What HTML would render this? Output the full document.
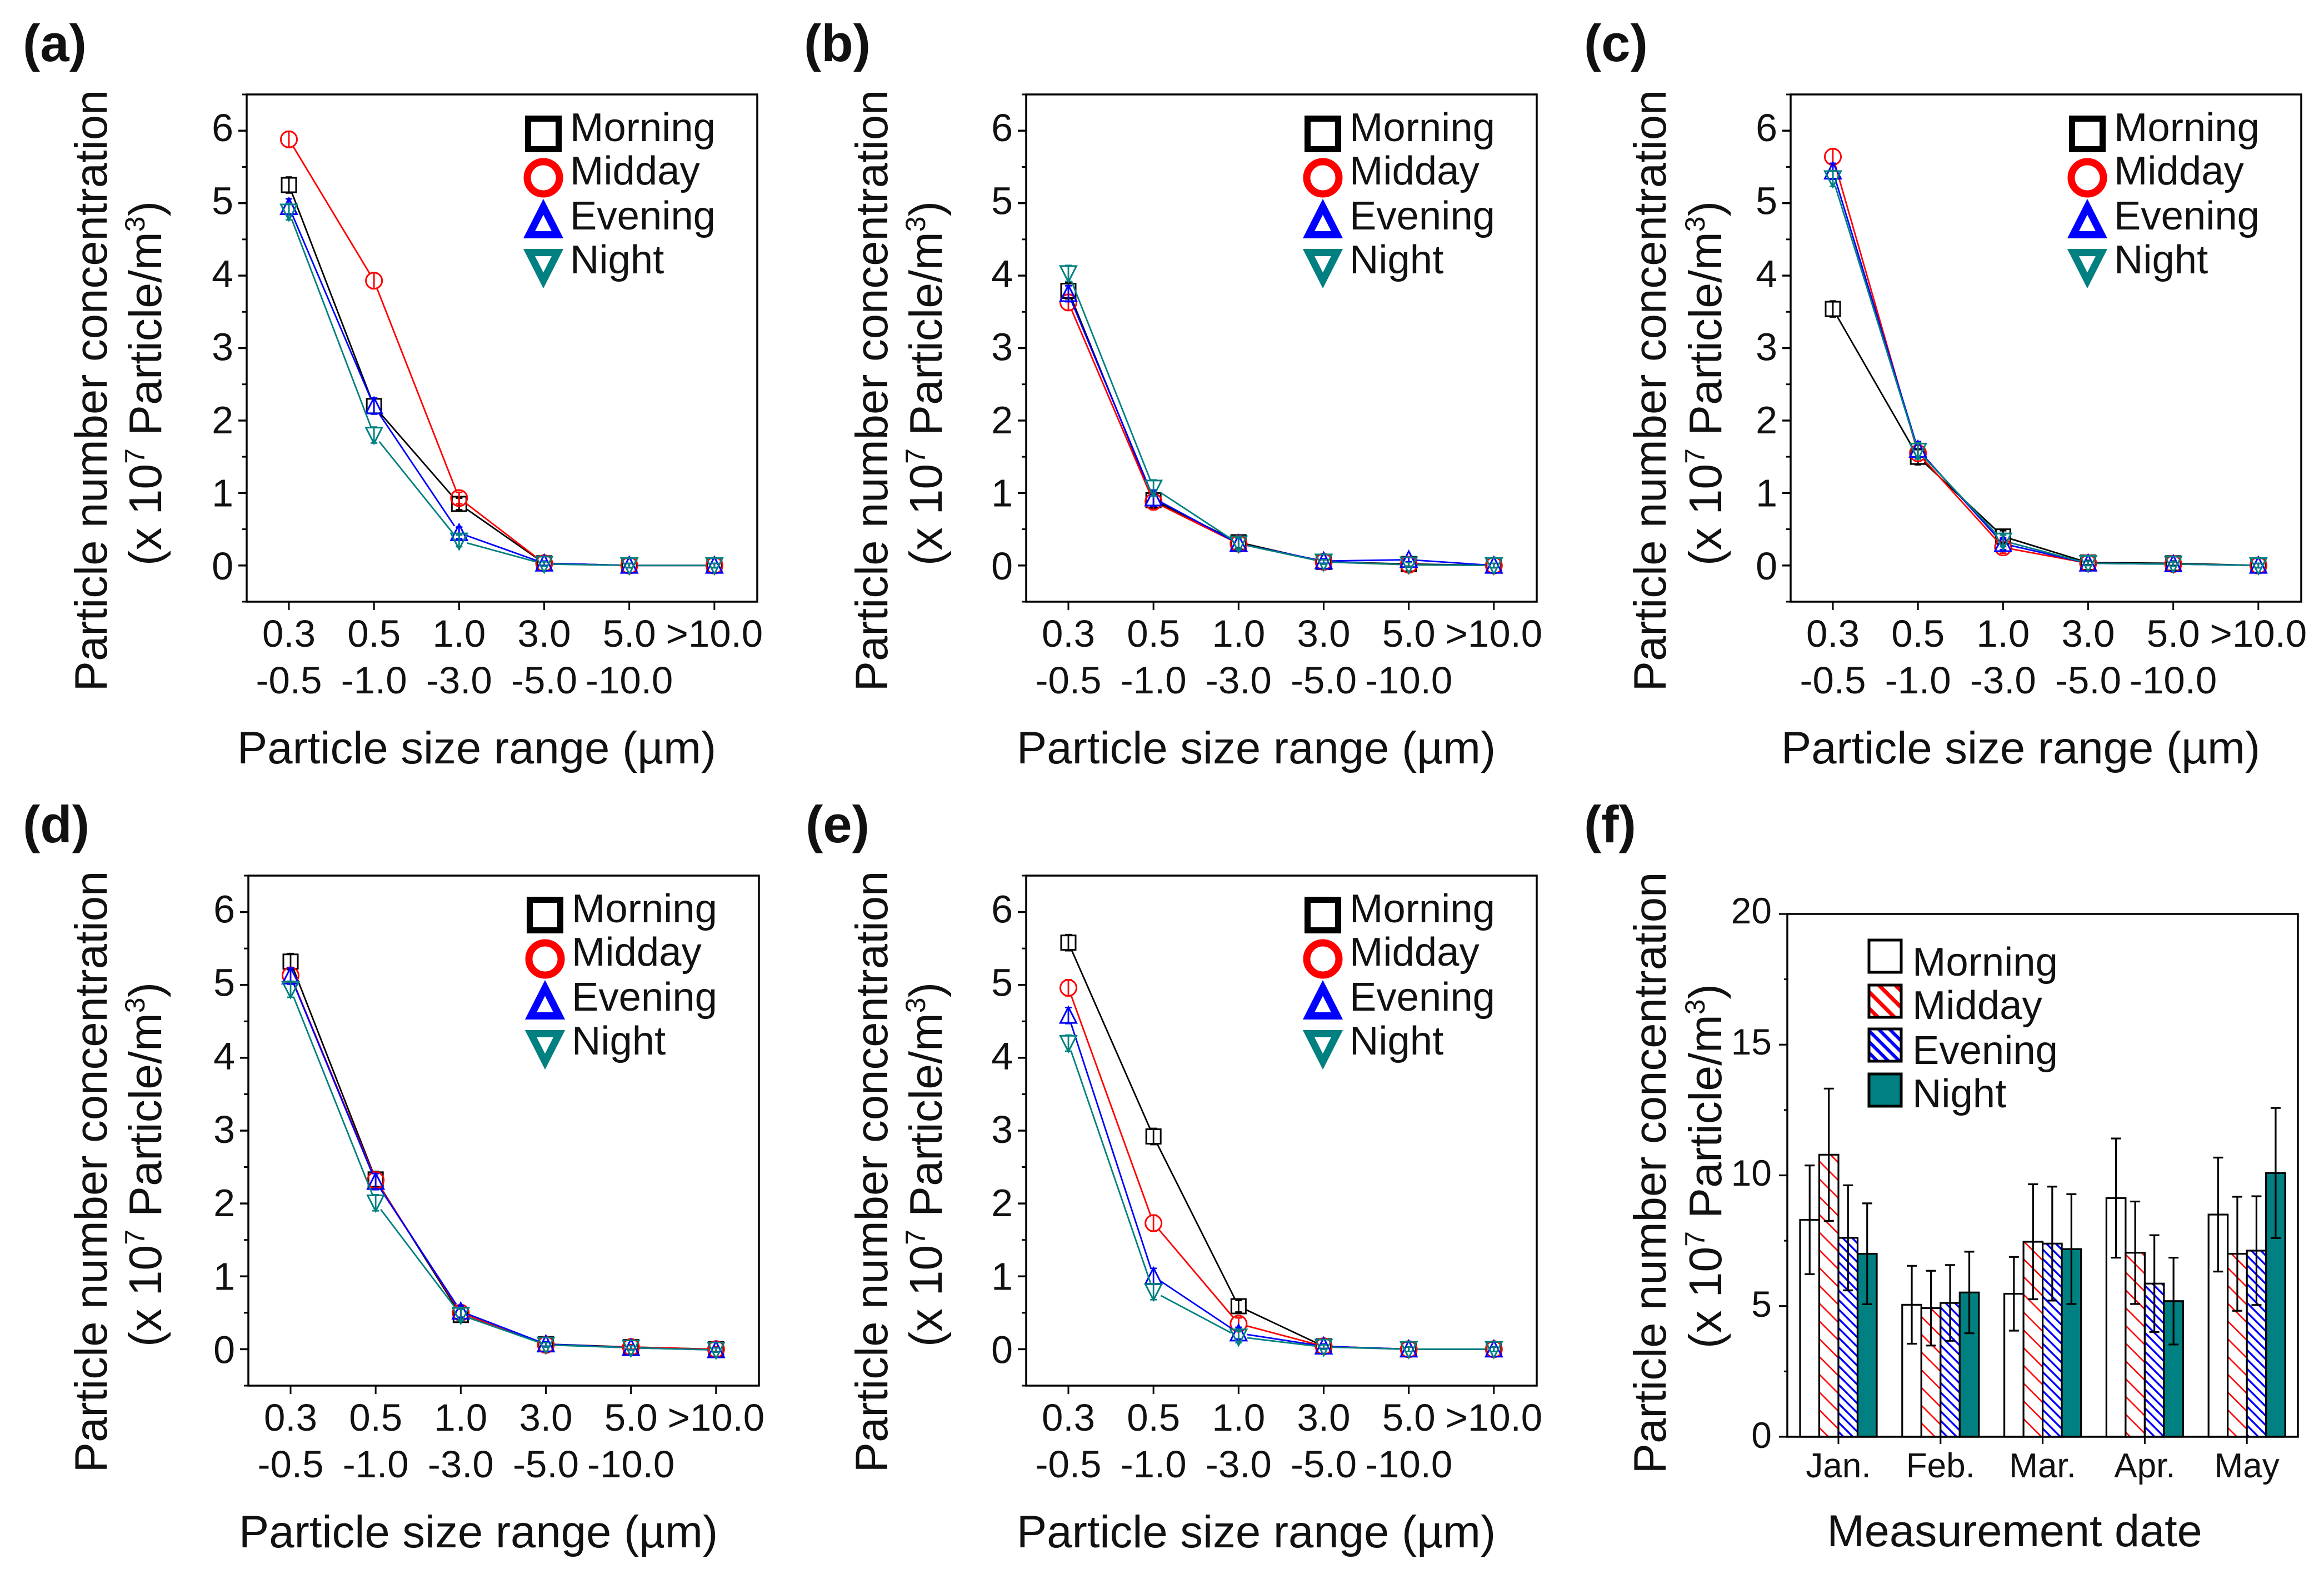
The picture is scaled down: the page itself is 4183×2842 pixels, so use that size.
<!DOCTYPE html>
<html lang="en">
<head>
<meta charset="utf-8">
<title>Particle number concentration panels</title>
<style>
html,body{margin:0;padding:0;background:#fff;}
svg{display:block;}
text{font-family:"Liberation Sans",Arial,sans-serif;fill:#111;white-space:pre;}
</style>
</head>
<body>
<svg id="figure" xmlns="http://www.w3.org/2000/svg" width="4183" height="2842" viewBox="0 0 4183 2842">
<defs>
<pattern id="hatch-red" patternUnits="userSpaceOnUse" width="22.6" height="22.6" patternTransform="rotate(-45)"><rect width="22.6" height="22.6" fill="#fff"/><rect width="2.6" height="22.6" fill="#f00"/></pattern>
<pattern id="hatch-blue" patternUnits="userSpaceOnUse" width="12" height="12" patternTransform="rotate(-45)"><rect width="12" height="12" fill="#fff"/><rect width="3.4" height="12" fill="#00f"/></pattern>
<pattern id="legend-hatch-red" patternUnits="userSpaceOnUse" width="21" height="21" patternTransform="rotate(-45)"><rect width="21" height="21" fill="#fff"/><rect width="7" height="21" fill="#f00"/></pattern>
<pattern id="legend-hatch-blue" patternUnits="userSpaceOnUse" width="14" height="14" patternTransform="rotate(-45)"><rect width="14" height="14" fill="#fff"/><rect width="6" height="14" fill="#00f"/></pattern>
</defs>
<rect width="4183" height="2842" fill="#fff"/>
</svg>
<script>
// ---------- shared labels ----------
const seriesNames = ["Morning", "Midday", "Evening", "Night"];
const sizeLabelsTop = ["0.3", "0.5", "1.0", "3.0", "5.0", ">10.0"];
const sizeLabelsBottom = ["-0.5", "-1.0", "-3.0", "-5.0", "-10.0", ""];
const lineYTicks = [0, 1, 2, 3, 4, 5, 6];
const pointErrors = [0.11, 0.11, 0.08, 0.03, 0.03, 0.03];

// ---------- panel (a) ----------
const aMorning = [5.25, 2.2, 0.85, 0.03, 0, 0];
const aMidday = [5.88, 3.93, 0.93, 0.03, 0, 0];
const aEvening = [4.95, 2.2, 0.45, 0.03, 0, 0];
const aNight = [4.88, 1.8, 0.34, 0.02, 0, 0];
// ---------- panel (b) ----------
const bMorning = [3.79, 0.9, 0.32, 0.05, 0.02, 0];
const bMidday = [3.63, 0.88, 0.3, 0.05, 0.01, 0];
const bEvening = [3.75, 0.93, 0.3, 0.06, 0.08, 0];
const bNight = [4.03, 1.07, 0.3, 0.05, 0.01, 0];
// ---------- panel (c) ----------
const cMorning = [3.54, 1.5, 0.4, 0.04, 0.03, 0];
const cMidday = [5.64, 1.55, 0.25, 0.03, 0.02, 0];
const cEvening = [5.44, 1.6, 0.3, 0.03, 0.02, 0];
const cNight = [5.34, 1.58, 0.34, 0.03, 0.02, 0];
// ---------- panel (d) ----------
const dMorning = [5.32, 2.33, 0.47, 0.07, 0.03, 0];
const dMidday = [5.13, 2.32, 0.5, 0.06, 0.03, 0];
const dEvening = [5.12, 2.3, 0.52, 0.07, 0.02, -0.01];
const dNight = [4.94, 2.01, 0.47, 0.06, 0.02, -0.01];
// ---------- panel (e) ----------
const eMorning = [5.58, 2.92, 0.59, 0.04, 0, 0];
const eMidday = [4.96, 1.73, 0.35, 0.04, 0, 0];
const eEvening = [4.58, 1.0, 0.22, 0.04, 0, 0];
const eNight = [4.2, 0.79, 0.17, 0.03, 0, 0];
// ---------- panel (f) ----------
const months = ["Jan.", "Feb.", "Mar.", "Apr.", "May"];
const barYTicks = [0, 5, 10, 15, 20];
const fMorning = [8.3, 5.05, 5.47, 9.13, 8.5];
const fMidday = [10.79, 4.92, 7.46, 7.04, 7.0];
const fEvening = [7.61, 5.12, 7.39, 5.86, 7.12];
const fNight = [7.0, 5.52, 7.18, 5.19, 10.09];
const fMorningErr = [2.08, 1.49, 1.41, 2.28, 2.18];
const fMiddayErr = [2.53, 1.43, 2.2, 1.96, 2.18];
const fEveningErr = [2.01, 1.45, 2.18, 1.85, 2.08];
const fNightErr = [1.93, 1.56, 2.1, 1.66, 2.49];

const svg = document.getElementById('figure');
const NS = 'http://www.w3.org/2000/svg';
const seriesColors = ['#000', '#f00', '#00f', '#008080'];

function mk(tag, attrs, parent) {
  const el = document.createElementNS(NS, tag);
  for (const k in attrs) el.setAttribute(k, attrs[k]);
  parent.appendChild(el);
  return el;
}

function addText(str, x, y, size, anchor, parent, weight) {
  const t = mk('text', {x: x, y: y, 'font-size': size, 'text-anchor': anchor, 'font-weight': weight || 'normal'}, parent);
  t.textContent = str;
  return t;
}

function markerShape(kind, cx, cy, s, sw, color, parent) {
  // s is half-width of the symbol's centre line
  let el;
  if (kind === 0) {
    el = mk('rect', {x: cx - s, y: cy - s, width: 2 * s, height: 2 * s, fill: 'none', stroke: color, 'stroke-width': sw}, parent);
  } else if (kind === 1) {
    el = mk('circle', {cx: cx, cy: cy, r: s, fill: 'none', stroke: color, 'stroke-width': sw}, parent);
  } else if (kind === 2) {
    el = mk('polygon', {points: cx + ',' + (cy - s * 1.05) + ' ' + (cx + s) + ',' + (cy + s * 0.92) + ' ' + (cx - s) + ',' + (cy + s * 0.92), fill: 'none', stroke: color, 'stroke-width': sw}, parent);
  } else {
    el = mk('polygon', {points: cx + ',' + (cy + s * 1.05) + ' ' + (cx + s) + ',' + (cy - s * 0.92) + ' ' + (cx - s) + ',' + (cy - s * 0.92), fill: 'none', stroke: color, 'stroke-width': sw}, parent);
  }
  return el;
}

function yAxisTitle(panelG, x1, x2, cy1, cy2) {
  const t1 = addText('Particle number concentration', x1, cy1, 81.5, 'middle', panelG);
  t1.setAttribute('transform', 'rotate(-90 ' + x1 + ' ' + cy1 + ')');
  
  
  const t2 = mk('text', {x: x2, y: cy2, 'font-size': 82.5, 'text-anchor': 'middle', transform: 'rotate(-90 ' + x2 + ' ' + cy2 + ')'}, panelG);
  
  
  const parts = [['(x 10', 0, 82.5], ['7', -30, 50], [' Particle/m', 30, 82.5], ['3', -30, 50], [')', 30, 82.5]];
  parts.forEach(function (p) {
    const sp = mk('tspan', {dy: p[1], 'font-size': p[2]}, t2);
    sp.textContent = p[0];
  });
}

function frame(panelG, L, T, W, H) {
  const r = mk('rect', {x: L, y: T, width: W, height: H, fill: 'none', stroke: '#000', 'stroke-width': 3.5}, panelG);
  
  
}

function drawLinePanel(p) {
  const g = mk('g', {}, svg);
  
  
  const plotH = p.H, plotW = p.W;
  const xOf = function (i) { return p.L + 76 + i * plotW / 6; };
  const yOf = function (v) { return p.T + (6.5 - v) * plotH / 7; };

  const label = addText('(' + p.id + ')', p.labelX, p.labelY, 94, 'start', g, 'bold');
  
  

  frame(g, p.L, p.T, plotW, plotH);

  lineYTicks.forEach(function (v) {
    const tick = mk('line', {x1: p.L - 15, x2: p.L, y1: yOf(v), y2: yOf(v), stroke: '#000', 'stroke-width': 3.5}, g);
    
    
    const minor = mk('line', {x1: p.L - 8, x2: p.L, y1: yOf(v + 0.5), y2: yOf(v + 0.5), stroke: '#000', 'stroke-width': 3}, g);
    
    
    const tl = addText(String(v), p.L - 24, yOf(v) + 25 - v, 70, 'end', g);
    
    
  });
  const minorLow = mk('line', {x1: p.L - 8, x2: p.L, y1: yOf(-0.5), y2: yOf(-0.5), stroke: '#000', 'stroke-width': 3}, g);
  
  

  sizeLabelsTop.forEach(function (lab, i) {
    const x = xOf(i);
    const tick = mk('line', {x1: x, x2: x, y1: p.T + plotH, y2: p.T + plotH + 15, stroke: '#000', 'stroke-width': 3}, g);
    
    
    const a = addText(lab, x, p.T + plotH + 81, 69, 'middle', g);
    
    
    if (sizeLabelsBottom[i]) {
      const b = addText(sizeLabelsBottom[i], x, p.T + plotH + 165, 69, 'middle', g);
      
      
    }
  });

  const xt = addText('Particle size range (\u00b5m)', p.L + 414, p.T + plotH + 291, 81.5, 'middle', g);
  
  

  yAxisTitle(g, p.titleX1, p.titleX2, p.T + 533, p.T + 520);

  const gapR = 15;
  p.series.forEach(function (vals, s) {
    const sg = mk('g', {}, g);
    
    
    const col = seriesColors[s];
    for (let i = 0; i < vals.length - 1; i++) {
      const x1 = xOf(i), y1 = yOf(vals[i]), x2 = xOf(i + 1), y2 = yOf(vals[i + 1]);
      const d = Math.hypot(x2 - x1, y2 - y1);
      const ux = (x2 - x1) / d, uy = (y2 - y1) / d;
      const seg = mk('line', {x1: x1 + ux * gapR, y1: y1 + uy * gapR, x2: x2 - ux * gapR, y2: y2 - uy * gapR, stroke: col, 'stroke-width': 2.8}, sg);
      
      
    }
    vals.forEach(function (v, i) {
      const cx = xOf(i), cy = yOf(v);
      const hi = yOf(v + pointErrors[i]), lo = yOf(v - pointErrors[i]);
      const eb = mk('path', {d: 'M' + (cx - 6) + ' ' + hi + 'H' + (cx + 6) + 'M' + cx + ' ' + hi + 'V' + lo + 'M' + (cx - 6) + ' ' + lo + 'H' + (cx + 6), fill: 'none', stroke: col, 'stroke-width': 2.8}, sg);
      
      
      const m = markerShape(s, cx, cy, s === 0 ? 13 : 14.5, 3, col, sg);
      
      
    });
  });

  const markerY = [71, 150, 229, 308];
  const textY = [84, 162, 243, 322];
  seriesNames.forEach(function (name, s) {
    const lg = mk('g', {}, g);
    
    
    const sz = s === 0 ? 27.5 : s === 1 ? 29 : 25.5;
    const m = markerShape(s, p.L + 534, p.T + markerY[s], sz, s === 0 ? 11 : 13, seriesColors[s], lg);
    
    
    const t = addText(name, p.L + 582, p.T + textY[s], 72.5, 'start', lg);
    
    
  });
}

const linePanels = [
  {id: 'a', L: 444, T: 170, W: 919, H: 913, labelX: 41, labelY: 110, titleX1: 192, titleX2: 290, series: [aMorning, aMidday, aEvening, aNight]},
  {id: 'b', L: 1847, T: 170, W: 919, H: 913, labelX: 1447, labelY: 110, titleX1: 1597, titleX2: 1695, series: [bMorning, bMidday, bEvening, bNight]},
  {id: 'c', L: 3223, T: 170, W: 919, H: 913, labelX: 2851, labelY: 110, titleX1: 2998, titleX2: 3098, series: [cMorning, cMidday, cEvening, cNight]},
  {id: 'd', L: 447, T: 1576, W: 919, H: 918, labelX: 41, labelY: 1516, titleX1: 192, titleX2: 290, series: [dMorning, dMidday, dEvening, dNight]},
  {id: 'e', L: 1847, T: 1576, W: 919, H: 918, labelX: 1450, labelY: 1516, titleX1: 1597, titleX2: 1695, series: [eMorning, eMidday, eEvening, eNight]}
];
linePanels.forEach(drawLinePanel);

// ---------- bar panel (f) ----------
(function () {
  const L = 3217, T = 1645, W = 919, H = 941;
  const g = mk('g', {}, svg);
  
  
  const yOf = function (v) { return T + (20 - v) * H / 20; };
  const xOf = function (i) { return L + 92 + i * W / 5; };
  const barW = 34.5;

  const label = addText('(f)', 2851, 1516, 94, 'start', g, 'bold');
  
  

  const fills = ['#fff', 'url(#hatch-red)', 'url(#hatch-blue)', '#008080'];
  const legendFills = ['#fff', 'url(#legend-hatch-red)', 'url(#legend-hatch-blue)', '#008080'];
  const seriesVals = [fMorning, fMidday, fEvening, fNight];
  const seriesErrs = [fMorningErr, fMiddayErr, fEveningErr, fNightErr];

  seriesVals.forEach(function (vals, s) {
    vals.forEach(function (v, i) {
      const x = xOf(i) - 2 * barW + s * barW;
      const bar = mk('rect', {x: x, y: yOf(v), width: barW, height: yOf(0) - yOf(v), fill: fills[s], stroke: '#000', 'stroke-width': 3.2}, g);
      
      
    });
  });
  seriesVals.forEach(function (vals, s) {
    vals.forEach(function (v, i) {
      const cx = xOf(i) - 2 * barW + (s + 0.5) * barW;
      const hi = yOf(v + seriesErrs[s][i]), lo = yOf(v - seriesErrs[s][i]);
      const eb = mk('path', {d: 'M' + (cx - 9) + ' ' + hi + 'H' + (cx + 9) + 'M' + cx + ' ' + hi + 'V' + lo + 'M' + (cx - 9) + ' ' + lo + 'H' + (cx + 9), fill: 'none', stroke: '#000', 'stroke-width': 3.2}, g);
      
      
    });
  });

  frame(g, L, T, W, H);

  barYTicks.forEach(function (v) {
    const tick = mk('line', {x1: L - 15, x2: L, y1: yOf(v), y2: yOf(v), stroke: '#000', 'stroke-width': 3.2}, g);
    
    
    if (v < 20) {
      const minor = mk('line', {x1: L - 6, x2: L, y1: yOf(v + 2.5), y2: yOf(v + 2.5), stroke: '#000', 'stroke-width': 3}, g);
      
      
    }
    const tl = addText(String(v), L - 28, yOf(v) + 20 - v * 0.15, 66, 'end', g);
    
    
  });

  months.forEach(function (m, i) {
    const x = xOf(i);
    const tick = mk('line', {x1: x, x2: x, y1: T + H, y2: T + H + 13, stroke: '#000', 'stroke-width': 3}, g);
    
    
    const t = addText(m, x, 2659, 62, 'middle', g);
    
    
  });

  const xt = addText('Measurement date', 3626, 2783, 81, 'middle', g);
  
  

  yAxisTitle(g, 2998, 3098, 2111, 2099);

  const boxY = [1690, 1771, 1850, 1931];
  const labY = [1756, 1834, 1915, 1993];
  seriesNames.forEach(function (name, s) {
    const lg = mk('g', {}, g);
    
    
    const box = mk('rect', {x: 3364, y: boxY[s] + 2, width: 58, height: 58, fill: legendFills[s], stroke: '#000', 'stroke-width': 5}, lg);
    
    
    const t = addText(name, 3442, labY[s], 72.5, 'start', lg);
    
    
  });
})();
</script>
</body>
</html>
